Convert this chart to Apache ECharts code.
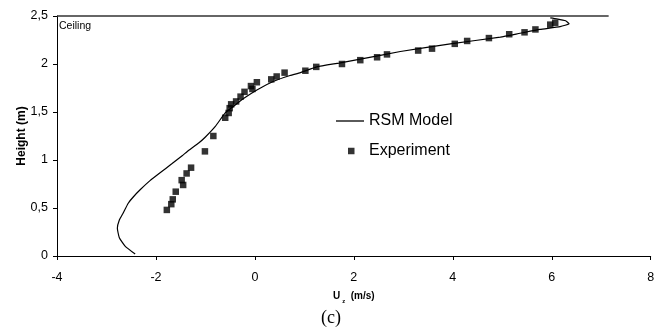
<!DOCTYPE html>
<html>
<head>
<meta charset="utf-8">
<script src="https://cdn.jsdelivr.net/npm/echarts@6.0.0/dist/echarts.min.js"></script>
<style>
html,body{margin:0;padding:0;background:#fff;}
#c{width:666px;height:328px;}
</style>
</head>
<body>
<div id="c"></div>
<script>
// ---- data ----
var rsmX = [-2.42,-2.62,-2.74,-2.78,-2.74,-2.67,-2.56,-2.45,-2.32,-2.12,-1.91,-1.68,-1.47,-1.34,-1.13,-1.00,-0.80,-0.60,-0.43,-0.23,0.04,0.38,0.71,0.92,1.25,1.70,2.13,2.94,3.95,4.96,5.36,5.76,6.17,6.35,6.28,6.10,5.97];
var rsmY = [0.02,0.10,0.19,0.29,0.375,0.44,0.55,0.62,0.69,0.785,0.87,0.96,1.045,1.10,1.18,1.24,1.35,1.49,1.56,1.64,1.73,1.82,1.88,1.91,1.97,2.01,2.05,2.13,2.21,2.28,2.32,2.36,2.39,2.42,2.45,2.47,2.48];
var expX = [-1.78,-1.69,-1.66,-1.60,-1.45,-1.48,-1.38,-1.29,-1.01,-0.84,-0.60,-0.53,-0.51,-0.48,-0.38,-0.29,-0.21,-0.08,-0.05,0.04,0.33,0.44,0.60,1.02,1.24,1.76,2.13,2.47,2.67,3.30,3.58,4.04,4.29,4.73,5.14,5.45,5.67,5.97,6.07];
var expY = [0.48,0.54,0.59,0.67,0.74,0.79,0.86,0.92,1.09,1.25,1.44,1.49,1.54,1.58,1.61,1.66,1.71,1.77,1.74,1.81,1.84,1.87,1.91,1.93,1.97,2.00,2.04,2.07,2.10,2.14,2.16,2.21,2.24,2.27,2.31,2.33,2.36,2.41,2.43];
var ceilingX = [-4, 7.15];
var ceilingY = [2.5, 2.5];
var xTickLabels = ['-4','-2','0','2','4','6','8'];
var yTickLabels = ['0','0,5','1','1,5','2','2,5'];
var seriesNames = ['RSM Model','Experiment'];
var ceilingLabel = 'Ceiling';
var captionText = '(c)';

function zip(a, b){ return a.map(function(v,i){ return [v, b[i]]; }); }

var FONT = 'Liberation Sans, Arial, sans-serif';
var chart = echarts.init(document.getElementById('c'), null, {renderer:'canvas'});
chart.setOption({
  animation: false,
  backgroundColor: '#fff',
  grid: {left: 57, right: 15.3, top: 16, bottom: 72, containLabel: false},
  title: [
    {text: ceilingLabel, left: 59, top: 21, textStyle:{fontFamily: FONT, fontSize: 10.5, fontWeight:'normal', color:'#000'}, padding:0},
    {text: captionText, left: 321, top: 309, textStyle:{fontFamily:'Liberation Serif, Times New Roman, serif', fontSize: 18, fontWeight:'normal', color:'#000'}, padding:0}
  ],
  legend: [
    {data:[{name: seriesNames[0], icon:'path://M0,0 L28,0 L28,1.3 L0,1.3 Z', itemStyle:{color:'#000'}}], left: 336, top: 113, orient:'vertical', itemWidth: 28, itemHeight: 1.3, selectedMode:false, padding:0,
     textStyle:{fontFamily: FONT, fontSize: 16, color:'#000'}},
    {data:[{name: seriesNames[1], icon:'rect'}], left: 348, top: 143, orient:'vertical', itemWidth: 6.5, itemHeight: 6.5, selectedMode:false, padding:0,
     textStyle:{fontFamily: FONT, fontSize: 16, color:'#000', padding:[0,0,0,9.5]}}
  ],
  xAxis: {
    type:'value', min:-4, max:8, interval:2,
    name: '{a|U}{s|z}{a|  (m/s)}', nameLocation:'middle', nameGap: 35, nameMoveOverlap: false,
    nameTextStyle: {rich:{a:{fontFamily: FONT, fontSize: 10, fontWeight:'bold', color:'#000'}, s:{fontFamily: FONT, fontSize: 6, fontWeight:'bold', color:'#000', verticalAlign:'bottom', padding:[0,0,-3,2]}}},
    axisLine:{show:true, onZero:false, lineStyle:{color:'#000', width:1}},
    axisTick:{show:true, inside:false, length:4, lineStyle:{color:'#000'}},
    axisLabel:{margin: 15, fontFamily: FONT, fontSize: 12.5, color:'#000', formatter:function(v, i){ return xTickLabels[i]; }},
    splitLine:{show:false}
  },
  yAxis: {
    type:'value', min:0, max:2.5, interval:0.5,
    name: 'Height (m)', nameLocation:'middle', nameGap: 29, nameRotate: 90, nameMoveOverlap: false,
    nameTextStyle:{fontFamily: FONT, fontSize: 12, fontWeight:'bold', color:'#000'},
    axisLine:{show:true, onZero:false, lineStyle:{color:'#000', width:1}},
    axisTick:{show:true, inside:false, length:4, lineStyle:{color:'#000'}},
    axisLabel:{margin: 9, fontFamily: FONT, fontSize: 12.5, color:'#000', formatter:function(v, i){ return yTickLabels[i]; }},
    splitLine:{show:false}
  },
  series: [
    {name: seriesNames[0], type:'line', data: zip(rsmX, rsmY), showSymbol:false, symbol:'none', smooth:0.15,
     lineStyle:{color:'#000', width:1.2}, itemStyle:{color:'#000'}, z:2},
    {name: seriesNames[1], type:'scatter', data: zip(expX, expY), symbol:'rect', symbolSize:6.5,
     itemStyle:{color:'#000'}, z:3},
    {name: 'ceiling', type:'line', data: zip(ceilingX, ceilingY), showSymbol:false, symbol:'none', clip:false,
     lineStyle:{color:'#333', width:1.3}, z:1}
  ]
});
</script>
</body>
</html>
